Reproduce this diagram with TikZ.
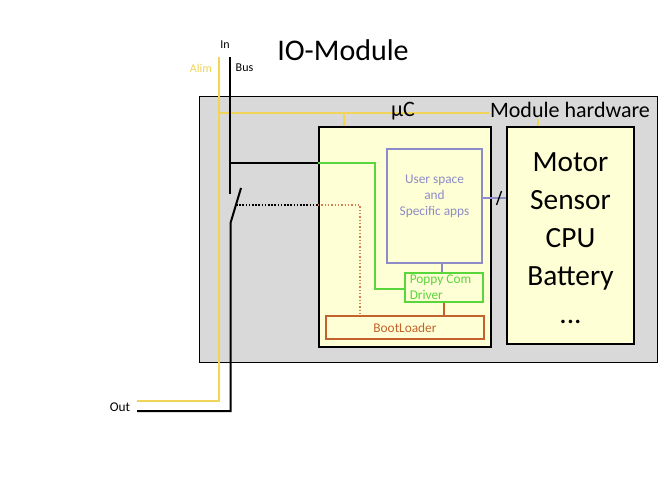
\documentclass[tikz,border=0pt]{standalone}
\usepackage{fontspec}
\setmainfont{Carlito}

\definecolor{alimyellow}{RGB}{242,212,88}
\definecolor{hwgray}{RGB}{217,217,217}
\definecolor{boxyellow}{RGB}{255,255,213}
\definecolor{comgreen}{RGB}{88,214,60}
\definecolor{appblue}{RGB}{140,140,200}
\definecolor{bootbrown}{RGB}{196,98,45}

\tikzset{every picture/.style={line width=0.75pt}}
\tikzset{
  blockbox/.style={draw=black, line width=1.6pt, fill=boxyellow, inner sep=0pt},
  subbox/.style={draw, line width=1.1pt, inner sep=0pt},
  alimline/.style={draw=alimyellow, line width=1.5pt},
  busline/.style={draw=black, line width=1.5pt},
  tinytext/.style={inner sep=0.75pt, font=\fontsize{9}{11}\selectfont},
  smalltext/.style={inner sep=0.75pt, font=\fontsize{10}{12}\selectfont},
  midtext/.style={inner sep=0.75pt, font=\fontsize{16.5}{20}\selectfont},
  bigtext/.style={inner sep=0.75pt, font=\fontsize{22}{28.5}\selectfont, align=center}
}

\begin{document}
\begin{tikzpicture}[x=0.75pt,y=0.75pt,yscale=-1,xscale=1]
\path[use as bounding box] (0,0) rectangle (666,500);

%Shape: Rectangle [id:hwframe]
\node [draw=black, fill=hwgray, inner sep=0pt, minimum width=343.5pt, minimum height=199.5pt] (frame) at (428,229) {};
%Shape: Rectangle [id:uC]
\node [blockbox, minimum width=129pt, minimum height=165pt] (uC) at (405,237) {};
%Shape: Rectangle [id:hw]
\node [blockbox, minimum width=95.25pt, minimum height=162.75pt] (hw) at (570.5,235.5) {};
%Shape: Rectangle [id:apps]
\node [subbox, draw=appblue, minimum width=71.25pt, minimum height=85.5pt] (apps) at (434.5,206) {};
%Shape: Rectangle [id:poppy]
\node [subbox, draw=comgreen, minimum width=58.5pt, minimum height=21.75pt] (poppy) at (444,287.5) {};
%Shape: Rectangle [id:boot]
\node [subbox, draw=bootbrown, minimum width=118.5pt, minimum height=17.25pt] (boot) at (405,327.5) {};

%Alim lines
\coordinate (alimtop) at (219,57);
\coordinate (alimbottom) at (219,401);
\coordinate (alimout) at (137,401);
\coordinate (alimjoint) at (219,113);
\coordinate (ucfeed) at (344,113);
\coordinate (hwfeed) at (538,113);
\draw [alimline] (alimtop) -- (alimbottom) -- (alimout) ;
\draw [alimline] (alimjoint) -- (hwfeed) ;
\draw [alimline] (ucfeed) -- (ucfeed |- uC.north) ;
\draw [alimline] (hwfeed) -- (hwfeed |- hw.north) ;

%Bus line with switch
\coordinate (bustop) at (230,57);
\coordinate (swopen) at (230,194);
\coordinate (swblade) at (241,188);
\coordinate (swpivot) at (230.5,223);
\coordinate (busbottom) at (230.5,411);
\coordinate (busout) at (137,411);
\draw [busline] (bustop) -- (swopen) ;
\draw [busline] (swblade) -- (swpivot) -- (busbottom) -- (busout) ;

%Com line
\coordinate (busjoint) at (230,163);
\coordinate (comturn) at (375,163);
\coordinate (comend) at (375,289);
\draw [busline] (busjoint) -- (busjoint -| uC.west) ;
\draw [draw=comgreen, line width=1.5pt] (busjoint -| uC.west) -- (comturn) -- (comend) -- (comend -| poppy.west) ;

%Boot line
\coordinate (bootjoint) at (236,205);
\coordinate (bootturn) at (360,205);
\draw [black, line width=1.2pt, dash pattern=on 1.2pt off 1.2pt] (bootjoint) -- (bootjoint -| uC.west) ;
\draw [bootbrown!80, line width=1pt, dash pattern=on 1pt off 1.5pt] (bootjoint -| uC.west) -- (bootturn) -- (bootturn |- boot.north) ;

%Inner links
\coordinate (appslink) at (499,198);
\draw [appblue, line width=1.1pt] (apps.south -| 442,0) -- (poppy.north -| 442,0) ;
\draw [bootbrown, line width=1.5pt] (poppy.south -| 444,0) -- (boot.north -| 444,0) ;
\draw [appblue, line width=1.1pt] (apps.east |- appslink) -- (hw.west |- appslink) ;
\draw [black, line width=1pt] ([shift={(-2.5,7)}]appslink) -- ([shift={(2.5,-7)}]appslink) ;

% Text Node
\node [bigtext, font=\fontsize{22.5}{26}\selectfont] (title) at (343,50) {IO-Module};
% Text Node
\node [tinytext] (inlabel) at (225,45) {In};
% Text Node
\node [tinytext, text=alimyellow] (alimlabel) at (201,68) {Alim};
% Text Node
\node [tinytext] (buslabel) at (244.5,68) {Bus};
% Text Node
\node [smalltext] (outlabel) at (120,407) {Out};
% Text Node
\node [midtext] (uclabel) at (403,111) {µC};
% Text Node
\node [midtext, fill=hwgray, inner sep=1pt] (hwlabel) at (570,110) {Module hardware};
% Text Node
\node [bigtext] (hwlist) at (570.5,238) {Motor\\Sensor\\CPU\\Battery\\...};
% Text Node
\node [smalltext, text=appblue, align=center] (appstext) at (434.5,196) {User space\\and\\Specific apps};
% Text Node
\node [smalltext, text=comgreen, align=left, anchor=north west] (poppytext) at ([shift={(4,1.5)}]poppy.north west) {Poppy Com\\Driver};
% Text Node
\node [smalltext, text=bootbrown] (boottext) at (boot.center) {BootLoader};
\end{tikzpicture}
\end{document}
